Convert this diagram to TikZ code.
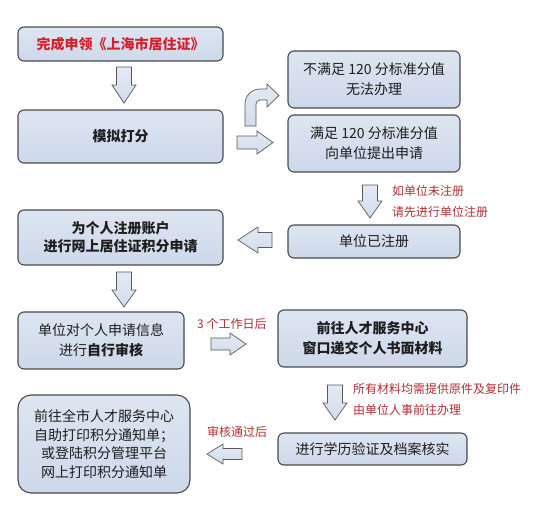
\documentclass[tikz,border=0pt]{standalone}
\usepackage{fontspec}
\setmainfont{Noto Sans CJK SC}
\definecolor{boxtop}{HTML}{DDE5F1}
\definecolor{boxbot}{HTML}{CDD8EA}
\definecolor{boxline}{HTML}{4A4A4A}
\definecolor{txt}{HTML}{1E1E1E}
\definecolor{titlered}{HTML}{D4202C}
\definecolor{notered}{HTML}{B03035}
\definecolor{arrfill}{HTML}{D2DCEC}
\definecolor{arrline}{HTML}{5A5A5A}
\tikzset{
  flowbox/.style={draw=boxline, line width=1.1pt, rounded corners=6pt,
    top color=boxtop, bottom color=boxbot, align=center, text=txt,
    font=\fontsize{14}{20}\selectfont, inner sep=0pt, anchor=center},
  note/.style={text=notered, font=\fontsize{12}{21}\selectfont, align=left, inner sep=0pt},
  blockarrow/.style={draw=arrline, line width=0.7pt, top color=arrfill!60!white, bottom color=arrfill, line join=miter}
}
\begin{document}
\begin{tikzpicture}[x=1pt,y=-1pt]
\useasboundingbox (0,0) rectangle (546,515);
\fill[white] (0,0) rectangle (546,515);
% boxes
\node[flowbox, minimum width=205pt, minimum height=34pt, text=titlered, font=\fontsize{14}{20}\selectfont\bfseries] (b1) at (120.5,44) {完成申领《上海市居住证》};
\node[flowbox, minimum width=205pt, minimum height=53pt, font=\fontsize{14}{20}\selectfont\bfseries] (b2) at (120.5,136.5) {模拟打分};
\node[flowbox, minimum width=172pt, minimum height=57pt] (b3) at (374,79.5) {不满足 120 分标准分值\\无法办理};
\node[flowbox, minimum width=172pt, minimum height=57pt] (b4) at (374,143.5) {满足 120 分标准分值\\向单位提出申请};
\node[flowbox, minimum width=172pt, minimum height=33pt] (b5) at (374,241.5) {单位已注册};
\node[flowbox, minimum width=205pt, minimum height=55pt, font=\fontsize{14}{18}\selectfont\bfseries] (b6) at (120.5,237.5) {为个人注册账户\\进行网上居住证积分申请};
\node[flowbox, minimum width=166pt, minimum height=57pt] (b7) at (101,340.5) {单位对个人申请信息\\进行\textbf{自行审核}};
\node[flowbox, minimum width=189pt, minimum height=57pt, font=\fontsize{14}{20}\selectfont\bfseries] (b8) at (372.5,338.5) {前往人才服务中心\\窗口递交个人书面材料};
\node[flowbox, minimum width=189pt, minimum height=32pt] (b9) at (372.5,449) {进行学历验证及档案核实};
\node[flowbox, minimum width=172pt, minimum height=98pt, rounded corners=13pt, font=\fontsize{14}{18.5}\selectfont] (b10) at (104,444) {前往全市人才服务中心\\自助打印积分通知单；\\或登陆积分管理平台\\网上打印积分通知单};
% notes
\node[note, anchor=west] (n1) at (392,201.5) {如单位未注册\\请先进行单位注册};
\node[note, anchor=west] (n2) at (353,399) {所有材料均需提供原件及复印件\\由单位人事前往办理};
\node[note, anchor=west] (n3) at (197,324) {3 个工作日后};
\node[note, anchor=west] (n4) at (207,432) {审核通过后};
% down arrows
\draw[blockarrow] (116.5,67) -- (131.5,67) -- (131.5,85) -- (136,85) -- (124,103) -- (112,85) -- (116.5,85) -- cycle;
\draw[blockarrow] (362.5,185) -- (377.5,185) -- (377.5,201) -- (382,201) -- (370,218) -- (358,201) -- (362.5,201) -- cycle;
\draw[blockarrow] (116.5,272) -- (131.5,272) -- (131.5,290) -- (136,290) -- (124,307) -- (112,290) -- (116.5,290) -- cycle;
\draw[blockarrow] (327.5,385) -- (342.5,385) -- (342.5,403) -- (347,403) -- (335,420) -- (323,403) -- (327.5,403) -- cycle;
% right arrows
\draw[blockarrow] (237,136) -- (257,136) -- (257,131) -- (273,142.5) -- (257,154) -- (257,149) -- (237,149) -- cycle;
\draw[blockarrow] (211,338) -- (230,338) -- (230,333) -- (246,344) -- (230,355) -- (230,350) -- (211,350) -- cycle;
% left arrows
\draw[blockarrow] (272,232.5) -- (258,232.5) -- (258,227) -- (238,240) -- (258,253) -- (258,247.5) -- (272,247.5) -- cycle;
\draw[blockarrow] (242,448.5) -- (223,448.5) -- (223,444) -- (207,454) -- (223,464) -- (223,459.5) -- (242,459.5) -- cycle;
% curved arrow
\draw[blockarrow] (245,126) -- (245,104) .. controls (245,95.7) and (251.7,89) .. (260,89) -- (267,89) -- (267,84) -- (279,95.5) -- (267,107) -- (267,100) -- (260,100) .. controls (257.8,100) and (256,101.8) .. (256,104) -- (256,126) -- cycle;
\end{tikzpicture}
\end{document}
